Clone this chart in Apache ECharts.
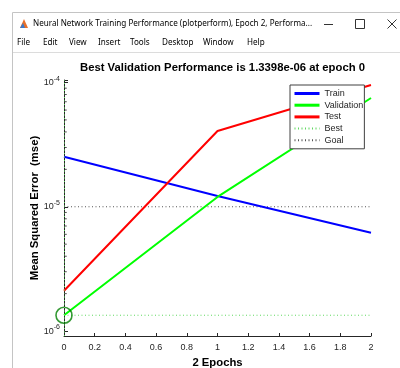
<!DOCTYPE html>
<html><head><meta charset="utf-8">
<script src="https://cdn.jsdelivr.net/npm/echarts@6/dist/echarts.min.js"></script>
<style>html,body{margin:0;padding:0;background:#fff}#c{width:400px;height:368px}</style>
</head><body><div id="c"></div>
<script>
// ---- data ----
var epochs = [0, 1, 2];
var trainPerf = [2.53e-5, 1.22e-5, 6.18e-6];
var valPerf = [1.3398e-6, 1.20e-5, 7.5e-5];
var testPerf = [2.11e-6, 4.07e-5, 9.55e-5];
var bestEpoch = 0;
var bestPerf = 1.3398e-6;
var goalPerf = 1e-5;
var seriesNames = ['Train', 'Validation', 'Test', 'Best', 'Goal'];
var minorTickValues = [2e-6,3e-6,4e-6,5e-6,6e-6,7e-6,8e-6,9e-6,2e-5,3e-5,4e-5,5e-5,6e-5,7e-5,8e-5,9e-5];
var titleText = 'Best Validation Performance is 1.3398e-06 at epoch 0';
var xName = '2 Epochs';
var yName = 'Mean Squared Error  (mse)';
var windowTitle = 'Neural Network Training Performance (plotperform), Epoch 2, Performa...';
var menuItems = ['File', 'Edit', 'View', 'Insert', 'Tools', 'Desktop', 'Window', 'Help'];
var menuX = [17, 43, 69, 98, 130, 162, 203, 247];

var FF = '"Liberation Sans", Arial, sans-serif';
var UIF = '"Noto Sans", "Open Sans", sans-serif';
var AX = '#262626';

function pairs(xs, ys) { return xs.map(function (x, i) { return [x, ys[i]]; }); }
var xMin = epochs[0], xMax = epochs[epochs.length - 1];

var graphics = [
  {type: 'line', shape: {x1: 12.5, y1: 12.5, x2: 400, y2: 12.5}, style: {stroke: '#c4c4c4', lineWidth: 1}},
  {type: 'line', shape: {x1: 12.5, y1: 12.5, x2: 12.5, y2: 368}, style: {stroke: '#c4c4c4', lineWidth: 1}},
  {type: 'polygon', shape: {points: [[20, 28], [24, 19], [28, 28]]}, style: {fill: '#e8702a'}},
  {type: 'polygon', shape: {points: [[20, 28], [23, 23], [25, 28]]}, style: {fill: '#3c78c8'}},
  {type: 'text', x: 33, y: 24, style: {text: windowTitle, font: '8.1px ' + UIF, fill: '#000', verticalAlign: 'middle'}},
  {type: 'line', shape: {x1: 324, y1: 24.5, x2: 333, y2: 24.5}, style: {stroke: '#333', lineWidth: 1}},
  {type: 'rect', shape: {x: 355.5, y: 19.5, width: 9, height: 9}, style: {stroke: '#333', fill: 'none', lineWidth: 1}},
  {type: 'line', shape: {x1: 387.5, y1: 19.5, x2: 396.5, y2: 28.5}, style: {stroke: '#333', lineWidth: 1}},
  {type: 'line', shape: {x1: 387.5, y1: 28.5, x2: 396.5, y2: 19.5}, style: {stroke: '#333', lineWidth: 1}},
  {type: 'line', shape: {x1: 13, y1: 52.5, x2: 400, y2: 52.5}, style: {stroke: '#dcdcdc', lineWidth: 1}}
];
menuItems.forEach(function (m, i) {
  graphics.push({type: 'text', x: menuX[i], y: 43, style: {text: m, font: '8.1px ' + UIF, fill: '#000', verticalAlign: 'middle'}});
});

var dotted = [1, 2.5];
var legendData = seriesNames.map(function (n, i) {
  return i < 3 ? {name: n, lineStyle: {width: 3}} : {name: n};
});

var option = {
  backgroundColor: '#ffffff',
  animation: false,
  title: {
    text: titleText, left: 217.5, top: 57, textAlign: 'center',
    textStyle: {fontFamily: FF, fontWeight: 'bold', fontSize: 11.3, color: '#000'}
  },
  graphic: graphics,
  grid: {left: 64, right: 29, top: 80, bottom: 32, show: true, backgroundColor: '#fff', borderWidth: 0,
    containLabel: false, outerBoundsMode: 'none'},
  legend: {
    data: legendData, orient: 'vertical', left: 290, top: 85,
    itemWidth: 25, itemHeight: 8, itemGap: 2.7, itemTextGap: 0,
    padding: [4, 1, 4, 3],
    backgroundColor: '#fff', borderColor: '#404040', borderWidth: 1, borderRadius: 0,
    textStyle: {fontFamily: FF, fontSize: 9, color: '#262626', lineHeight: 8},
    itemStyle: {opacity: 0}
  },
  xAxis: {
    type: 'value', min: xMin, max: xMax, interval: 0.2,
    name: xName, nameLocation: 'middle', nameGap: 21, nameMoveOverlap: false,
    nameTextStyle: {fontFamily: FF, fontWeight: 'bold', fontSize: 11.3, color: '#000'},
    axisLine: {show: true, lineStyle: {color: AX, width: 1}},
    axisTick: {show: true, inside: true, length: 3, lineStyle: {color: AX}},
    axisLabel: {fontFamily: FF, fontSize: 9, color: AX, margin: 7},
    splitLine: {show: false}
  },
  yAxis: {
    type: 'log', logBase: 10, min: Math.pow(10, -6.04), max: Math.pow(10, -3.98),
    name: yName, nameLocation: 'middle', nameGap: 24, nameMoveOverlap: false,
    nameTextStyle: {fontFamily: FF, fontWeight: 'bold', fontSize: 11.3, color: '#000'},
    axisLine: {show: true, lineStyle: {color: AX, width: 1}},
    axisTick: {show: true, inside: true, length: 4, lineStyle: {color: AX}},
    splitLine: {show: false},
    axisLabel: {
      margin: 4, showMinLabel: true, showMaxLabel: true,
      formatter: function (v) {
        var e = Math.log10(v), r = Math.round(e);
        if (Math.abs(e - r) > 0.001) return '';
        return '{b|10}{s|' + r + '}';
      },
      rich: {
        b: {fontFamily: FF, fontSize: 9, color: AX},
        s: {fontFamily: FF, fontSize: 7, color: AX, padding: [0, 0, 7, 0]}
      }
    }
  },
  series: [
    {name: 'Train', type: 'line', data: pairs(epochs, trainPerf), showSymbol: false, symbol: 'none',
      lineStyle: {color: '#0000ff', width: 2}, itemStyle: {color: '#0000ff'}, z: 3},
    {name: 'Validation', type: 'line', data: pairs(epochs, valPerf), showSymbol: false, symbol: 'none',
      lineStyle: {color: '#00ff00', width: 2}, itemStyle: {color: '#00ff00'}, z: 3},
    {name: 'Test', type: 'line', data: pairs(epochs, testPerf), showSymbol: false, symbol: 'none',
      lineStyle: {color: '#ff0000', width: 2}, itemStyle: {color: '#ff0000'}, z: 3},
    {name: 'Best', type: 'line', data: [[xMin, bestPerf], [xMax, bestPerf]], showSymbol: false, symbol: 'none',
      lineStyle: {color: '#5fd85f', width: 1, type: dotted}, itemStyle: {color: '#5fd85f'}, z: 2,
      markLine: {silent: true, symbol: 'none', label: {show: false},
        lineStyle: {color: '#5fd85f', width: 1, type: dotted}, data: [{xAxis: bestEpoch}]}},
    {name: 'Goal', type: 'line', data: [[xMin, goalPerf], [xMax, goalPerf]], showSymbol: false, symbol: 'none',
      lineStyle: {color: '#555555', width: 1, type: dotted}, itemStyle: {color: '#555555'}, z: 2},
    {name: 'bestCircle', type: 'scatter', data: [[bestEpoch, bestPerf]], symbol: 'circle', symbolSize: 16,
      itemStyle: {color: 'rgba(0,0,0,0)', borderColor: '#008000', borderWidth: 1.6}, silent: true, z: 4},
    {name: 'minorTicks', type: 'scatter', data: minorTickValues.map(function (v) { return [xMin, v]; }),
      symbol: 'rect', symbolSize: [2.5, 1], symbolOffset: [1.5, 0], itemStyle: {color: AX}, silent: true, z: 5}
  ]
};
var chart = echarts.init(document.getElementById('c'), null, {renderer: 'canvas'});
chart.setOption(option);
</script></body></html>
